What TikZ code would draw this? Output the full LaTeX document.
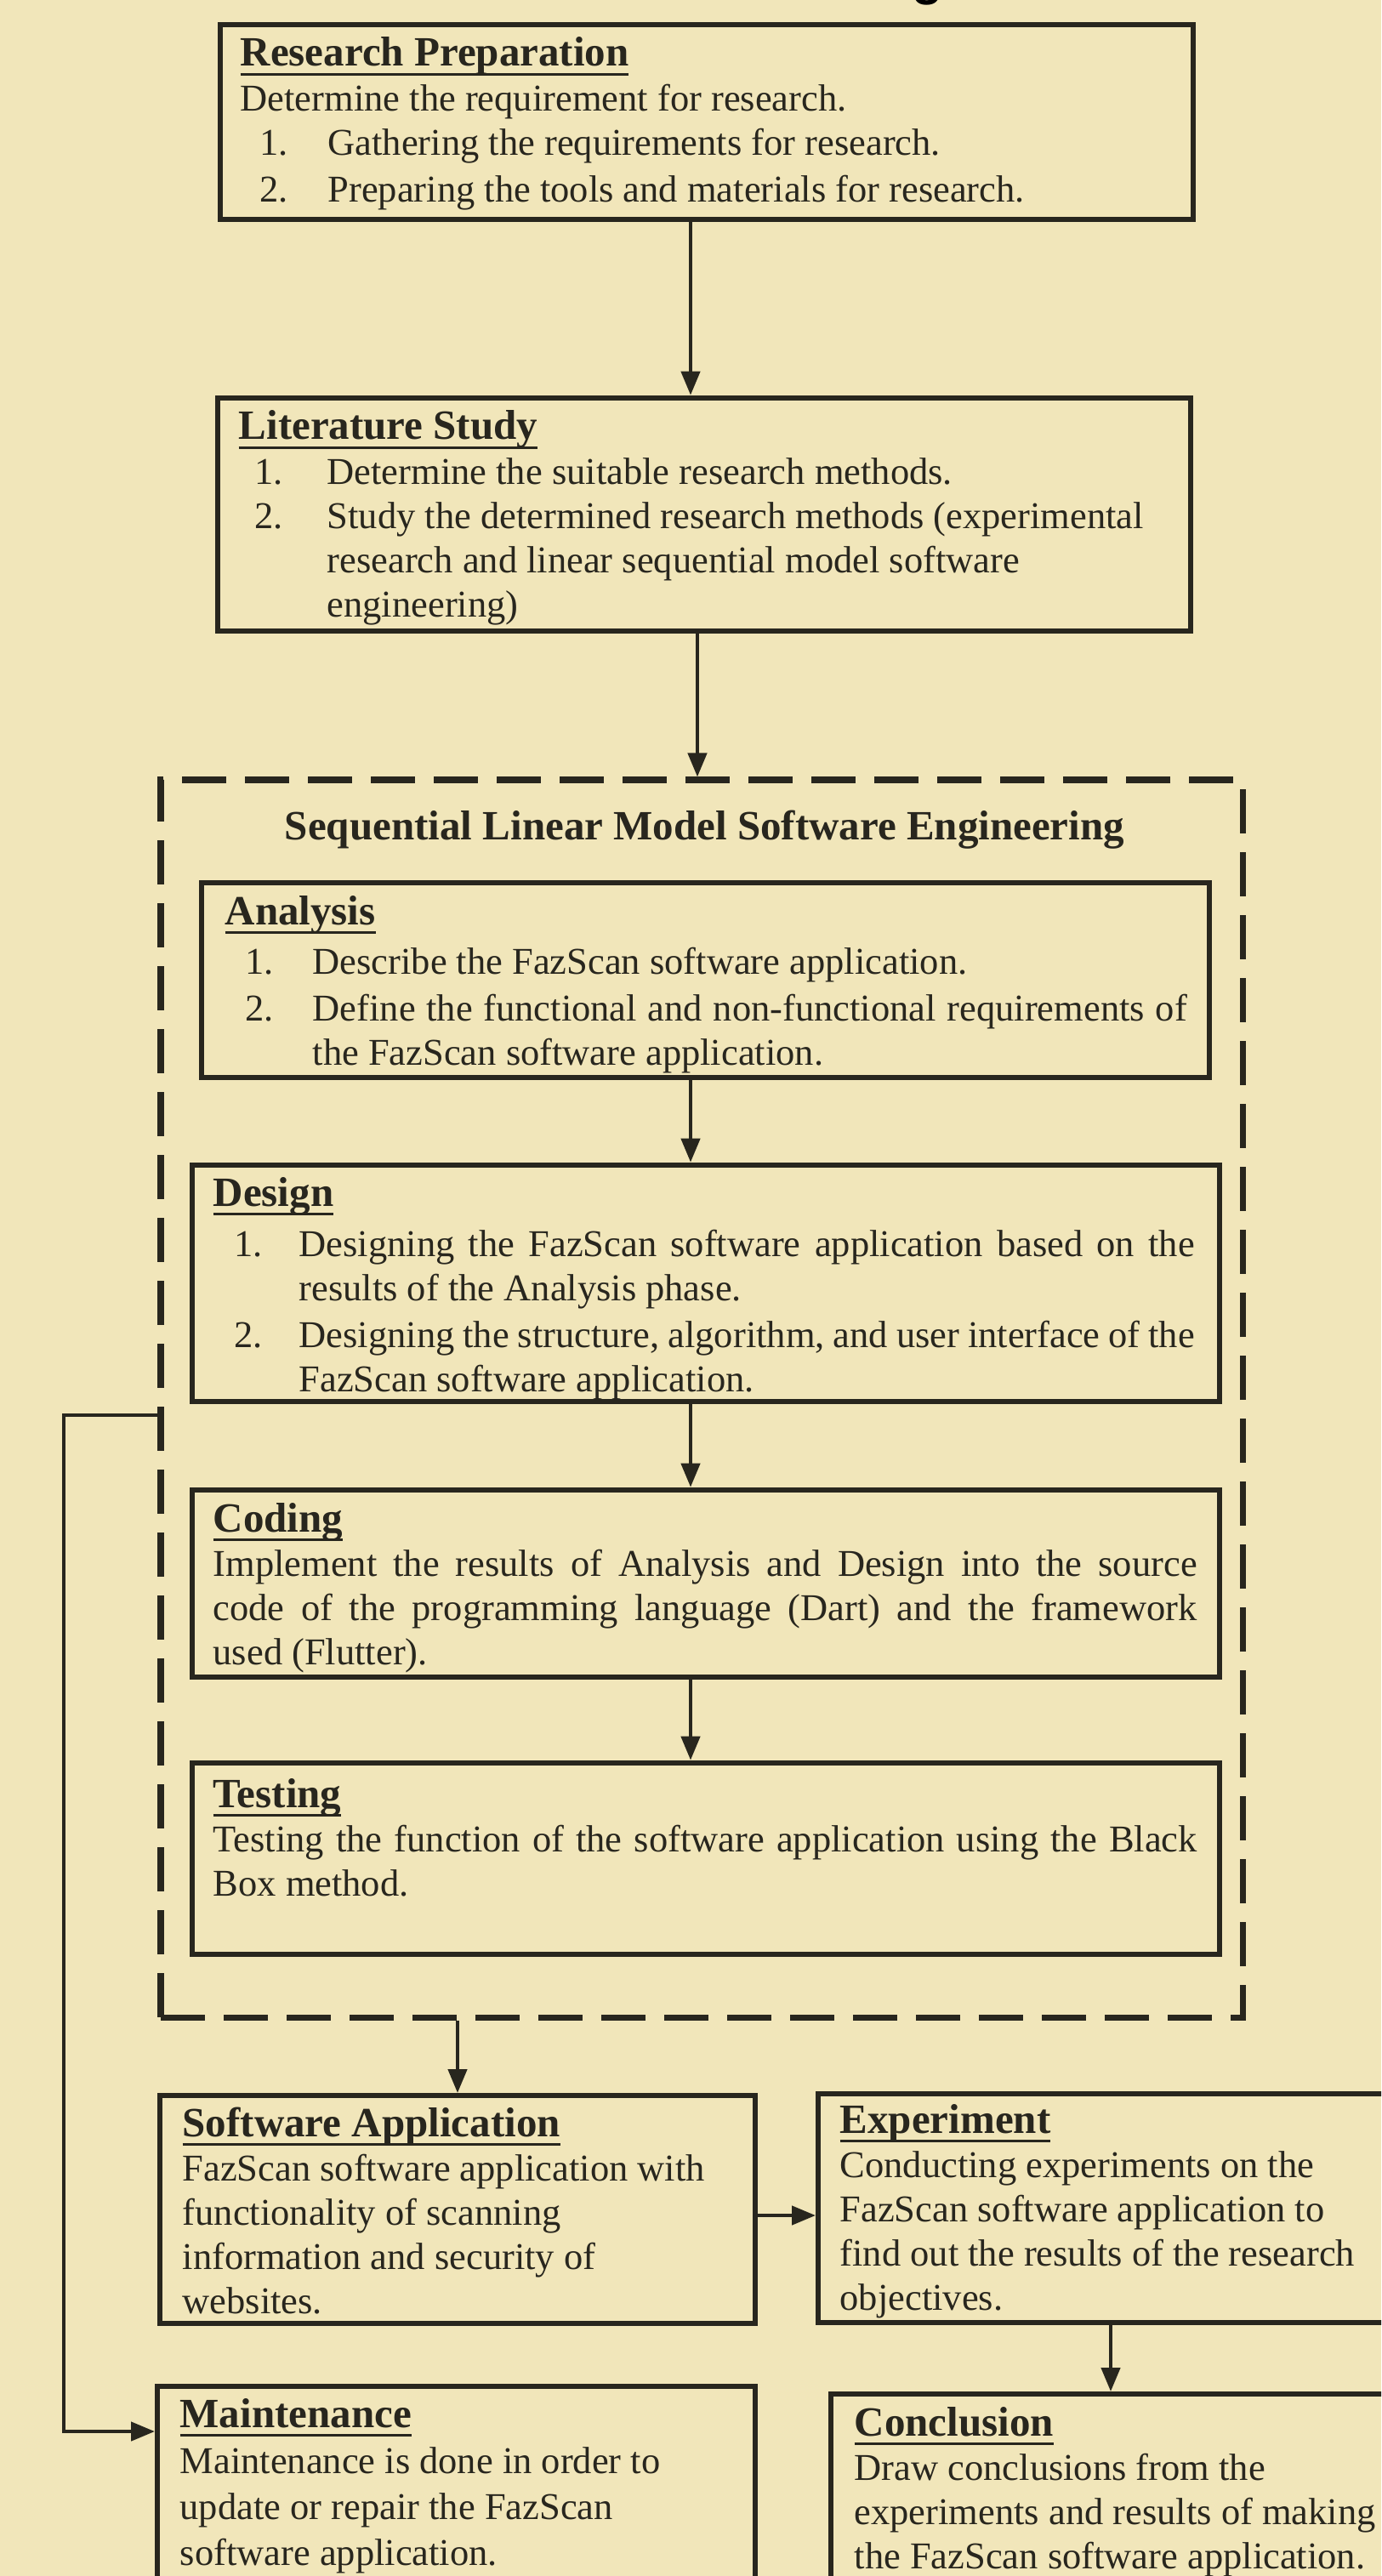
\documentclass[tikz,border=0pt]{standalone}
\usepackage{fontspec}
\setmainfont{Liberation Serif}
\setsansfont{Liberation Sans}
\usetikzlibrary{arrows.meta,fit}
\definecolor{paper}{RGB}{241,230,186}
\definecolor{ink}{RGB}{40,38,30}
% bold heading with a flat underline at a fixed depth
\newcommand\ulinebox[1]{\leavevmode\setbox0\hbox{#1}\rlap{\rule[-0.11cm]{\wd0}{0.03cm}}\box0}
\newcommand\ttl[1]{{\fontsize{13.94pt}{14.8pt}\selectfont\bfseries\ulinebox{#1}}}
% a justified line of given width
\newcommand\jl[2]{\makebox[#1][s]{#2}}
% numbered item: indent, number column width, number
\newcommand\itm[3]{\leavevmode\hspace*{#1}\makebox[#2][l]{#3}}
\begin{document}
\begin{tikzpicture}[x=1cm,y=1cm,
  box/.style={draw=ink, line width=1.9pt, inner sep=0pt, rectangle},
  dashbox/.style={draw=ink, line width=2pt, inner sep=0pt, rectangle, dash pattern=on 0.52cm off 0.22cm},
  arr/.style={draw=ink, line width=1.25pt, -{Triangle[length=0.28cm,width=0.22cm]}},
  txt/.style={anchor=base west, inner sep=0pt, text=ink, font=\fontsize{12.66pt}{14.8pt}\selectfont}]
\fill[paper] (0,0) rectangle (16.24,-30.29);
\useasboundingbox (0,0) rectangle (16.24,-30.29);
\clip (0,0) rectangle (16.24,-30.29);

% heading fragment above the top box
\node[anchor=base west, inner sep=0pt, text=black, font=\fontsize{17pt}{17pt}\selectfont\sffamily\bfseries] (headg) at (10.72,0.06) {g};

% boxes
\node[box, fit={(2.59,-0.29) (14.03,-2.58)}] (rp) {};
\node[box, fit={(2.56,-4.68) (14.00,-7.42)}] (lit) {};
\node[dashbox, fit={(1.89,-9.17) (14.61,-23.72)}] (sle) {};
\node[box, fit={(2.37,-10.38) (14.22,-12.67)}] (ana) {};
\node[box, fit={(2.26,-13.70) (14.34,-16.48)}] (des) {};
\node[box, fit={(2.26,-17.52) (14.34,-19.72)}] (cod) {};
\node[box, fit={(2.26,-20.73) (14.34,-22.98)}] (tst) {};
\node[box, line width=1.7pt, fit={(1.88,-24.64) (8.88,-27.32)}] (sa) {};
\node[box, line width=1.7pt, fit={(9.62,-24.62) (16.50,-27.31)}] (exp) {};
\node[box, line width=1.7pt, fit={(1.85,-28.06) (8.88,-30.60)}] (mnt) {};
\node[box, line width=1.7pt, fit={(9.77,-28.15) (16.50,-30.60)}] (con) {};

% texts
\node[txt] (rpT) at (2.82,-0.78) {\parbox[t]{13cm}{%
\ttl{Research Preparation}\\
Determine the requirement for research.\\
\itm{0.23cm}{0.80cm}{1.}Gathering the requirements for research.\\[0.03cm]
\itm{0.23cm}{0.80cm}{2.}Preparing the tools and materials for research.}};

\node[txt] (litT) at (2.80,-5.17) {\parbox[t]{13cm}{%
\ttl{Literature Study}\\
\itm{0.19cm}{0.85cm}{1.}Determine the suitable research methods.\\
\itm{0.19cm}{0.85cm}{2.}Study the determined research methods (experimental\\
\hspace*{1.04cm}research and linear sequential model software\\
\hspace*{1.04cm}engineering)}};

\node[anchor=base, inner sep=0pt, text=ink, font=\fontsize{13.94pt}{14.8pt}\selectfont\bfseries] (sleT) at (8.285,-9.87) {Sequential Linear Model Software Engineering};

\node[txt] (anaT) at (2.64,-10.87) {\parbox[t]{13cm}{%
\ttl{Analysis}\\[0.06cm]
\itm{0.24cm}{0.79cm}{1.}Describe the FazScan software application.\\[0.03cm]
\itm{0.24cm}{0.79cm}{2.}\jl{10.28cm}{Define the functional and non-functional requirements of}\\
\hspace*{1.03cm}the FazScan software application.}};

\node[txt] (desT) at (2.50,-14.18) {\parbox[t]{13cm}{%
\ttl{Design}\\[0.07cm]
\itm{0.25cm}{0.76cm}{1.}\jl{10.53cm}{Designing the FazScan software application based on the}\\
\hspace*{1.01cm}results of the Analysis phase.\\[0.03cm]
\itm{0.25cm}{0.76cm}{2.}\jl{10.53cm}{Designing the structure, algorithm, and user interface of the}\\
\hspace*{1.01cm}FazScan software application.}};

\node[txt] (codT) at (2.50,-18.01) {\parbox[t]{13cm}{%
\ttl{Coding}\\
\jl{11.57cm}{Implement the results of Analysis and Design into the source}\\
\jl{11.57cm}{code of the programming language (Dart) and the framework}\\
used (Flutter).}};

\node[txt] (tstT) at (2.50,-21.25) {\parbox[t]{13cm}{%
\ttl{Testing}\\
\jl{11.57cm}{Testing the function of the software application using the Black}\\
Box method.}};

\node[txt] (saT) at (2.14,-25.12) {\parbox[t]{8cm}{%
\ttl{Software Application}\\
FazScan software application with\\
functionality of scanning\\
information and security of\\
websites.}};

\node[txt] (expT) at (9.87,-25.08) {\parbox[t]{8cm}{%
\ttl{Experiment}\\
Conducting experiments on the\\
FazScan software application to\\
find out the results of the research\\
objectives.}};

\node[txt] (mntT) at (2.11,-28.54) {\parbox[t]{8cm}{%
\ttl{Maintenance}\\[0.02cm]
Maintenance is done in order to\\[0.02cm]
update or repair the FazScan\\[0.02cm]
software application.}};

\node[txt] (conT) at (10.04,-28.64) {\parbox[t]{8cm}{%
\ttl{Conclusion}\\
Draw conclusions from the\\
experiments and results of making\\
the FazScan software application.}};

% connector guides
\coordinate (ax1) at (8.12,0);
\coordinate (ax2) at (8.20,0);
\coordinate (cx) at (13.06,0);
\coordinate (ay) at (0,-26.05);
\coordinate (fb1) at (0.75,-16.64);
\coordinate (fb2) at (0,-28.59);

% connectors
\draw[arr] (ax1 |- rp.south) -- (ax1 |- lit.north);
\draw[arr] (ax2 |- lit.south) -- (ax2 |- sle.north);
\draw[arr] (ax1 |- ana.south) -- (ax1 |- des.north);
\draw[arr] (ax1 |- des.south) -- (ax1 |- cod.north);
\draw[arr] (ax1 |- cod.south) -- (ax1 |- tst.north);
\draw[arr] (sa.north |- sle.south) -- (sa.north);
\draw[arr] (sa.east |- ay) -- (exp.west |- ay);
\draw[arr] (cx |- exp.south) -- (cx |- con.north);
\draw[arr] (sle.west |- fb1) -- (fb1) |- (mnt.west |- fb2);
\end{tikzpicture}
\end{document}
